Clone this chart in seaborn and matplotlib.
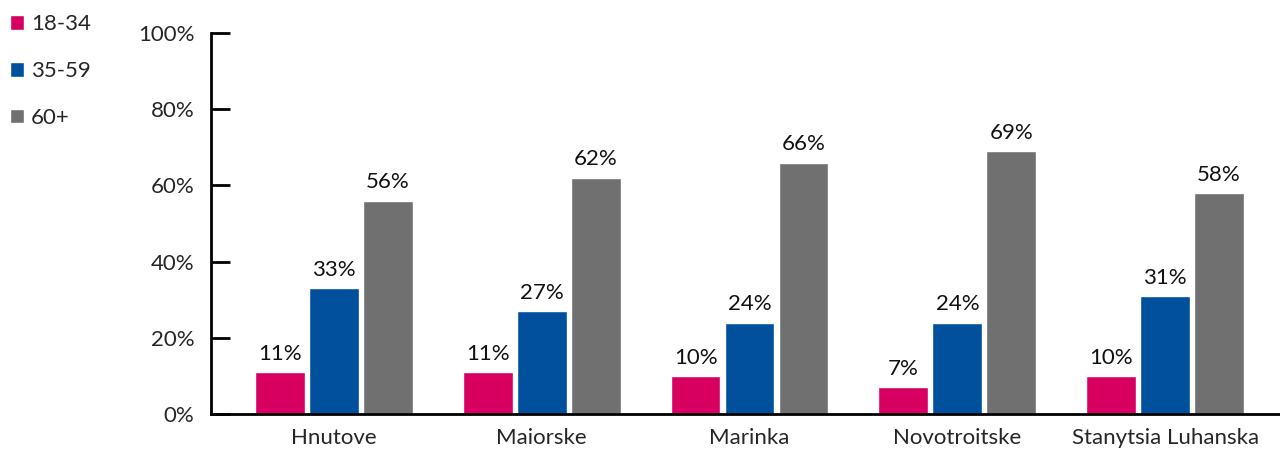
import matplotlib
matplotlib.use("Agg")
import matplotlib.pyplot as plt
import seaborn as sns
import pandas as pd

locations = ["Hnutove", "Maiorske", "Marinka", "Novotroitske", "Stanytsia Luhanska"]
age_groups = ["18-34", "35-59", "60+"]
share_18_34 = [11, 11, 10, 7, 10]
share_35_59 = [33, 27, 24, 24, 31]
share_60_plus = [56, 62, 66, 69, 58]
y_ticks = [0, 20, 40, 60, 80, 100]

colors = ["#D70060", "#00509E", "#707070"]

rows = []
for grp, vals in zip(age_groups, [share_18_34, share_35_59, share_60_plus]):
    for loc, v in zip(locations, vals):
        rows.append({"location": loc, "age": grp, "value": v})
df = pd.DataFrame(rows)

sns.set_style("white")
plt.rcParams["font.family"] = ["Lato", "DejaVu Sans"]
FS = 16

fig = plt.figure(figsize=(12.8, 4.5), dpi=100)
ax = fig.add_axes([211/1280, 1-414/450, 1-211/1280, (414-33)/450])

sns.barplot(data=df, x="location", y="value", hue="age", order=locations,
            hue_order=age_groups, palette=colors, width=0.78, gap=0.08,
            saturation=1, ax=ax, legend=True)

for cont in ax.containers:
    ax.bar_label(cont, labels=[f"{int(round(b.get_height()))}%" for b in cont],
                 padding=6, fontsize=FS, color="#111111")

ax.set_ylim(0, 100)
ax.set_xlim(-0.592, 4.553)
ax.set_yticks(y_ticks)
ax.set_yticklabels([f"{t}%" for t in y_ticks], fontsize=FS)
ax.tick_params(axis="y", left=True, direction="in", length=14, width=2, pad=12, color="black")
ax.tick_params(axis="x", bottom=False, length=0, labelsize=FS, pad=10)
ax.set_xlabel("")
ax.set_ylabel("")
for s in ["top", "right"]:
    ax.spines[s].set_visible(False)
for s in ["left", "bottom"]:
    ax.spines[s].set_linewidth(2)
    ax.spines[s].set_color("black")

handles, labels = ax.get_legend_handles_labels()
ax.get_legend().remove()
fig.legend(handles, labels, loc="upper left", bbox_to_anchor=(0.0, 0.99),
           frameon=False, fontsize=FS, handlelength=0.65, handleheight=0.65,
           handletextpad=0.3, labelspacing=1.2, borderpad=0.2, borderaxespad=0.25)

fig.savefig("out.png", dpi=100)
